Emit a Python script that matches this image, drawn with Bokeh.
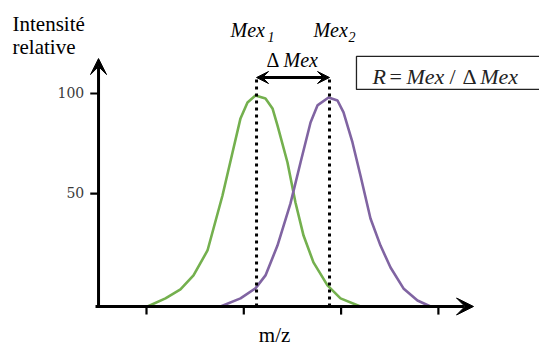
from bokeh.plotting import figure
from bokeh.models import Range1d, Arrow, VeeHead
from bokeh.core.properties import value
from bokeh.embed import file_html
from bokeh.resources import INLINE

# ---------------- data ----------------
x_ticks = [1, 2, 3, 4]
y_ticks = [53, 100]
y_tick_labels = ["50", "100"]

green_x = [1.01, 1.195, 1.349, 1.483, 1.627, 1.781, 1.884, 1.966, 2.038, 2.120,
           2.223, 2.295, 2.346, 2.449, 2.531, 2.614, 2.716, 2.860, 2.994, 3.199]
green_y = [0, 3.8, 8.0, 14.6, 26.3, 52.1, 72.3, 88.3, 95.8, 99.1,
           97.7, 93.0, 85.0, 67.6, 48.8, 33.3, 20.7, 9.9, 3.8, 0]

purple_x = [1.761, 1.966, 2.120, 2.223, 2.346, 2.480, 2.583, 2.686, 2.757, 2.871,
            2.963, 3.025, 3.117, 3.199, 3.302, 3.405, 3.508, 3.641, 3.785, 3.919]
purple_y = [0, 3.8, 8.5, 14.6, 28.6, 48.4, 67.6, 86.4, 94.4, 98.1,
            96.7, 91.1, 77.0, 61.5, 41.3, 28.6, 18.3, 8.5, 2.8, 0]

mex1 = 2.131
mex2 = 2.881

# ---------------- layout constants ----------------
W, H = 539, 351
X0, X1 = -0.5005, 5.0391
Y0, Y1 = -21.127, 143.662
axis_x = 0.507          # position of vertical axis
axis_y = 0.0            # position of horizontal axis
x_axis_start, x_axis_end = 0.476, 4.361
y_axis_end = 116.4
arrow_y = 107.5
serif = value("Liberation Serif")
TY = -6                 # text vertical nudge (px)

p = figure(width=W, height=H, output_backend="svg", toolbar_location=None,
           x_range=Range1d(X0, X1), y_range=Range1d(Y0, Y1),
           min_border=0, min_border_left=0, min_border_right=0,
           min_border_top=0, min_border_bottom=0)
p.axis.visible = False
p.grid.visible = False
p.outline_line_color = None
p.background_fill_color = "white"
p.border_fill_color = "white"

# curves
p.line(green_x, green_y, line_color="#74B04E", line_width=2.6)
p.line(purple_x, purple_y, line_color="#8064A2", line_width=2.6)

# dotted peak markers
p.segment(x0=[mex1, mex2], y0=[axis_y, axis_y], x1=[mex1, mex2], y1=[arrow_y, arrow_y],
          line_color="black", line_width=3, line_dash="3 4")

# axes
p.add_layout(Arrow(end=VeeHead(size=17, fill_color="black", line_color="black"),
                   x_start=x_axis_start, y_start=axis_y, x_end=x_axis_end, y_end=axis_y,
                   line_width=3, line_color="black"))
p.add_layout(Arrow(end=VeeHead(size=16, fill_color="black", line_color="black"),
                   x_start=axis_x, y_start=axis_y, x_end=axis_x, y_end=y_axis_end,
                   line_width=3, line_color="black"))

# ticks
p.segment(x0=x_ticks, y0=[axis_y] * len(x_ticks), x1=x_ticks, y1=[axis_y - 3.8] * len(x_ticks),
          line_color="black", line_width=2.2)
p.segment(x0=[axis_x - 0.085] * len(y_ticks), y0=y_ticks, x1=[axis_x] * len(y_ticks), y1=y_ticks,
          line_color="black", line_width=2.2)
p.text(x=[axis_x - 0.085] * len(y_ticks), y=y_ticks, text=y_tick_labels,
       x_offset=-6, y_offset=-1, text_align="right", text_baseline="alphabetic",
       text_font=value("DejaVu Serif"), text_font_size="14px", text_color="#3a3a3a")

# delta arrow
p.add_layout(Arrow(start=VeeHead(size=12, fill_color="black", line_color="black"),
                   end=VeeHead(size=12, fill_color="black", line_color="black"),
                   x_start=mex1, y_start=arrow_y, x_end=mex2, y_end=arrow_y,
                   line_width=3, line_color="black"))

# axis titles
p.text(x=[-0.377, -0.377], y=[130.0, 118.8], text=["Intensité", "relative"],
       y_offset=TY, text_align="left", text_baseline="alphabetic", text_font=serif,
       text_font_size="21px", text_color="black")
p.text(x=[2.316], y=[-16.0], text=["m/z"], y_offset=TY, text_align="center",
       text_baseline="alphabetic", text_font=serif, text_font_size="21px", text_color="black")

# Mex labels
p.text(x=[1.863, 2.716], y=[127.2, 127.2], text=["Mex", "Mex"], y_offset=TY, text_align="left",
       text_baseline="alphabetic", text_font=serif, text_font_style="italic",
       text_font_size="20px", text_color="black")
p.text(x=[2.244, 3.076], y=[123.9, 123.9], text=["1", "2"], y_offset=TY, text_align="left",
       text_baseline="alphabetic", text_font=serif, text_font_style="italic",
       text_font_size="14px", text_color="black")
p.text(x=[2.233], y=[113.1], text=["Δ"], y_offset=TY, text_align="left", text_baseline="alphabetic",
       text_font=serif, text_font_size="20px", text_color="black")
p.text(x=[2.408], y=[113.1], text=["Mex"], y_offset=TY, text_align="left", text_baseline="alphabetic",
       text_font=serif, text_font_style="italic", text_font_size="20px", text_color="black")

# formula box
p.quad(left=[3.158], right=[5.3], top=[117.4], bottom=[101.9], fill_color=None,
       line_color="#222222", line_width=1.3)
p.text(x=[3.323, 3.672, 4.43], y=[105.2] * 3, text=["R", "Mex", "Mex"], y_offset=TY,
       text_align="left", text_baseline="alphabetic", text_font=serif, text_font_style="italic",
       text_font_size="22px", text_color="#222222")
p.text(x=[3.497, 4.114, 4.248], y=[105.2] * 3, text=["=", "/", "Δ"], y_offset=TY,
       text_align="left", text_baseline="alphabetic", text_font=serif,
       text_font_size="22px", text_color="#222222")

open("out.html", "w").write(file_html(p, INLINE))
